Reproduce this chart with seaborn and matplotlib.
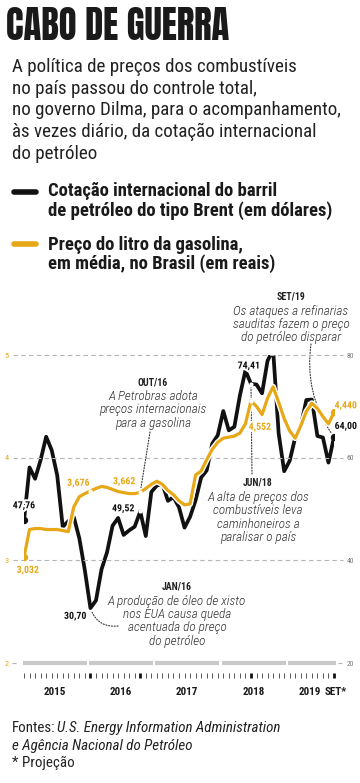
import numpy as np
import pandas as pd
import matplotlib.pyplot as plt
import matplotlib.patheffects as pe
from matplotlib.lines import Line2D
import seaborn as sns

# monthly series, Jan/2015 .. Set/2019 (projection)
meses = pd.date_range('2015-01-01', '2019-09-01', freq='MS')
brent = [47.76, 58.10, 55.89, 59.52, 64.08, 61.48, 56.56, 46.52, 47.62, 48.43, 44.27, 38.01,
         30.70, 32.18, 38.21, 41.58, 46.74, 48.25, 44.95, 45.84, 46.57, 49.52, 44.73, 53.31,
         54.58, 54.87, 51.59, 52.31, 50.33, 46.37, 48.48, 51.70, 56.15, 57.51, 62.71, 64.37,
         69.08, 65.32, 66.02, 72.11, 76.98, 74.41, 74.25, 72.53, 78.89, 81.03, 64.75, 57.36,
         59.41, 63.96, 66.14, 71.23, 71.32, 64.22, 63.92, 59.04, 64.00]
gasolina = [3.032, 3.30, 3.31, 3.31, 3.30, 3.30, 3.30, 3.29, 3.28, 3.52, 3.62, 3.65,
            3.676, 3.70, 3.72, 3.71, 3.69, 3.67, 3.66, 3.65, 3.65, 3.662, 3.70, 3.74,
            3.77, 3.74, 3.68, 3.64, 3.58, 3.54, 3.55, 3.83, 3.87, 3.98, 4.08, 4.15,
            4.19, 4.20, 4.21, 4.24, 4.33, 4.552, 4.50, 4.42, 4.58, 4.69, 4.54, 4.38,
            4.26, 4.19, 4.31, 4.45, 4.53, 4.48, 4.40, 4.33, 4.440]
anos = ['2015', '2016', '2017', '2018', '2019', 'SET*']
ticks_brent = [20, 40, 60, 80]
ticks_gas = [2, 3, 4, 5]

rotulos_brent = [(0, '47,76'), (12, '30,70'), (21, '49,52'), (41, '74,41'), (56, '64,00')]
rotulos_gas = [(0, '3,032'), (12, '3,676'), (21, '3,662'), (41, '4,552'), (56, '4,440')]
marcos = [12, 21, 41, 56]

PRETO = '#111111'
AMARELO = '#E6A817'
COND = ['Roboto Condensed', 'DejaVu Sans']
TITULO = ['Anton', 'Oswald', 'DejaVu Sans']

W, H = 360, 783
df = pd.DataFrame({'i': np.arange(len(meses)), 'brent': brent, 'gasolina': gasolina})

sns.set_style('white')
fig = plt.figure(figsize=(3.6, 7.83), dpi=100)
renderer = fig.canvas.get_renderer()


def ftext(x, y, s, **kw):
    kw.setdefault('family', COND)
    return fig.text(x / W, 1 - y / H, s, **kw)


def fit(t, largura):
    # scale font so the rendered text spans `largura` pixels
    bb = t.get_window_extent(renderer)
    t.set_fontsize(t.get_fontsize() * largura / bb.width)
    return t.get_fontsize()


# header
t = ftext(6, 40, 'CABO DE GUERRA', family=TITULO, fontsize=24, color='#1a1a1a',
          va='baseline')
fit(t, 224)
sub = ['A política de preços dos combustíveis', 'no país passou do controle total,',
       'no governo Dilma, para o acompanhamento,', 'às vezes diário, da cotação internacional',
       'do petróleo']
ts = [ftext(12, 72 + 21.7 * k, s, fontsize=14, color='#222', va='baseline') for k, s in enumerate(sub)]
fs = fit(ts[2], 331)
for t in ts:
    t.set_fontsize(fs)

# legend
for y, c in [(192, PRETO), (244, AMARELO)]:
    fig.add_artist(Line2D([14 / W, 36 / W], [1 - y / H] * 2, lw=4, color=c,
                          solid_capstyle='round'))
leg = [(196, 'Cotação internacional do barril'), (216, 'de petróleo do tipo Brent (em dólares)'),
       (250, 'Preço do litro da gasolina,'), (269, 'em média, no Brasil (em reais)')]
ts = [ftext(48, y, s, fontsize=13, weight='bold', color='#1a1a1a', va='baseline') for y, s in leg]
fs = fit(ts[1], 284)
for t in ts:
    t.set_fontsize(fs)

# chart axes
ax = fig.add_axes([24 / W, (H - 663) / H, 310 / W, 308 / H])
ax.set_xlim(0, 56)
ax.set_ylim(20, 80)
ax2 = ax.twinx()
ax2.set_ylim(2, 5)
for a in (ax, ax2):
    for sp in a.spines.values():
        sp.set_visible(False)
    a.set_facecolor('none')

px = lambda p: (p - 24) / (310 / 56)
ax2.hlines([3, 4, 5], px(13), px(343), colors='#b5b5b5', lw=0.8,
           linestyles=(0, (4, 3)), clip_on=False, zorder=0)
ax2.hlines([2, 2], [px(12), px(338)], [px(16), px(342)], colors='#b5b5b5', lw=0.8, clip_on=False)
ax2.hlines([2] * 5, [-0.2, 11.7, 23.7, 35.7, 47.7], [11.3, 23.3, 35.3, 47.3, 56.3],
           colors='#c9c9c9', lw=3, clip_on=False, zorder=0)

ax.yaxis.tick_right()
ax.set_yticks(ticks_brent)
ax.set_yticklabels([str(t) for t in ticks_brent], family=COND, fontsize=5.5, color='#777')
ax.tick_params(axis='y', length=0, pad=9)
ax2.yaxis.tick_left()
ax2.set_yticks(ticks_gas)
ax2.set_yticklabels([str(t) for t in ticks_gas], family=COND, fontsize=6, color=AMARELO)
ax2.tick_params(axis='y', length=0, pad=11)

ax.spines['bottom'].set_position(('outward', 7.2))
ax.set_xticks(marcos)
ax.set_xticks(np.arange(len(meses)), minor=True)
ax.set_xticklabels([])
ax.tick_params(axis='x', which='both', bottom=True, direction='out')
ax.tick_params(axis='x', which='major', length=3.6, width=2, color=PRETO)
ax.tick_params(axis='x', which='minor', length=3.6, width=0.7, color='#555')
ty = [ax.text(x, -0.094, s, transform=ax.get_xaxis_transform(), ha='center', va='center',
              family=COND, fontsize=9, weight='bold', color='#1a1a1a')
      for x, s in zip([5.5, 17.5, 29.5, 41.5, 51.7, 56.3], anos)]
fs = fit(ty[0], 22)
for t in ty:
    t.set_fontsize(fs)

# lines
sns.lineplot(data=df, x='i', y='brent', ax=ax, color=PRETO, lw=2.7, zorder=3)
sns.lineplot(data=df, x='i', y='gasolina', ax=ax2, color=AMARELO, lw=2.3, zorder=3,
             path_effects=[pe.Stroke(linewidth=4.3, foreground='white'), pe.Normal()])
ends = df.iloc[[0, -1]]
sns.scatterplot(data=ends, x='i', y='brent', ax=ax, color=PRETO, s=28, linewidth=0, zorder=4)
sns.scatterplot(data=ends, x='i', y='gasolina', ax=ax2, color=AMARELO, s=28, linewidth=0, zorder=4)
mid = df.iloc[marcos[:3]]
sns.scatterplot(data=mid.iloc[1:], x='i', y='brent', ax=ax, color='white', s=9, linewidth=0, zorder=4)
sns.scatterplot(data=mid, x='i', y='gasolina', ax=ax2, color='white', s=9, linewidth=0, zorder=4)
ax.set_xlabel(''); ax.set_ylabel(''); ax2.set_xlabel(''); ax2.set_ylabel('')

halo = [pe.withStroke(linewidth=3, foreground='white')]
off_b = {0: (0, 15), 12: (-15, -8), 21: (-17, 3), 41: (-2, 18), 56: (12, 11)}
off_g = {0: (4, -13), 12: (-12, 8), 21: (-16, 11), 41: (9, -26), 56: (12, 7)}
tv = []
for i, s in rotulos_brent:
    tv.append(ax.annotate(s, (i, brent[i]), xytext=off_b[i], textcoords='offset pixels',
                          ha='center', va='center', family=COND, fontsize=8.5, weight='bold',
                          color=PRETO, path_effects=halo, zorder=6, annotation_clip=False))
for i, s in rotulos_gas:
    tv.append(ax2.annotate(s, (i, gasolina[i]), xytext=off_g[i], textcoords='offset pixels',
                           ha='center', va='center', family=COND, fontsize=8.5, weight='bold',
                           color=AMARELO, path_effects=halo, zorder=6, annotation_clip=False))
fs = fit(tv[3], 22)
for t in tv:
    t.set_fontsize(fs)

# annotations
notas = [
    (153, 382, 'OUT/16', ['A Petrobras adota', 'preços internacionais', 'para a gasolina']),
    (291, 297, 'SET/19', ['Os ataques a refinarias', 'sauditas fazem o preço', 'do petróleo disparar']),
    (258, 483, 'JUN/18', ['A alta de preços dos', 'combustíveis leva', 'caminhoneiros a', 'paralisar o país']),
    (177, 587, 'JAN/16', ['A produção de óleo de xisto', 'nos EUA causa queda',
                          'acentuada do preço', 'do petróleo']),
]
tb, ti = [], []
for x, y, tt, linhas in notas:
    tb.append(ftext(x, y, tt, fontsize=8, weight='bold', color='#222', ha='center', va='center'))
    for k, s in enumerate(linhas):
        ti.append(ftext(x, y + 14 + 13.5 * k, s, fontsize=10, style='italic', weight=300,
                        color='#333', ha='center', va='center'))
fs = fit(tb[0], 30)
for t in tb:
    t.set_fontsize(fs)
fs = fit(ti[-4], 139)
for t in ti:
    t.set_fontsize(fs)

dots = dict(arrowstyle='-', ls=(0, (1, 1.5)), lw=0.8, color='#333', shrinkA=0, shrinkB=3)
ax2.annotate('', (21, gasolina[21]), xytext=(150, H - 432), textcoords='figure pixels',
             arrowprops=dict(dots, connectionstyle='arc3,rad=0'), zorder=1)
ax.annotate('', (56, brent[56]), xytext=(311, H - 344), textcoords='figure pixels',
            arrowprops=dict(dots, connectionstyle='arc3,rad=0.2'), zorder=1)
ax.annotate('', (41, brent[41]), xytext=(252, H - 474), textcoords='figure pixels',
            arrowprops=dict(dots, connectionstyle='arc3,rad=0'), zorder=1)
ax.annotate('', (12, brent[12]), xytext=(118, H - 626), textcoords='figure pixels',
            arrowprops=dict(dots, connectionstyle='arc3,rad=-0.4'), zorder=1)

# footer
tf = [ftext(12, 732, 'Fontes:', fontsize=11, color='#222', va='baseline'),
      ftext(57, 732, 'U.S. Energy Information Administration', fontsize=11, style='italic',
            color='#222', va='baseline'),
      ftext(12, 750, 'e Agência Nacional do Petróleo', fontsize=11, style='italic',
            color='#222', va='baseline'),
      ftext(12, 767, '* Projeção', fontsize=11, color='#222', va='baseline')]
fs = fit(tf[1], 223)
for t in tf:
    t.set_fontsize(fs)

fig.savefig('out.png', dpi=100)
